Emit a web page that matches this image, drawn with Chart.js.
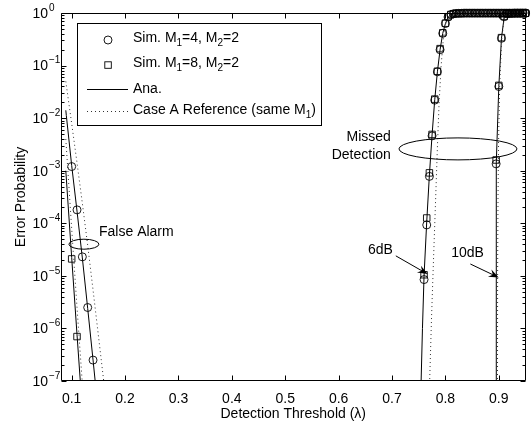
<!DOCTYPE html>
<html><head><meta charset="utf-8">
<script src="https://cdn.jsdelivr.net/npm/chart.js@4.4.1/dist/chart.umd.min.js"></script>
<style>html,body{margin:0;padding:0;background:#fff;overflow:hidden}canvas{display:block}</style>
</head><body>
<canvas id="c" width="531" height="429"></canvas>
<script>
// ---------- tick labels ----------
const xTicks = [0.1, 0.2, 0.3, 0.4, 0.5, 0.6, 0.7, 0.8, 0.9];
const yTickExponents = [0, -1, -2, -3, -4, -5, -6, -7];

// ---------- False alarm: simulation ----------
const faLambdaM4 = [0.10, 0.11, 0.12, 0.13, 0.14];
const faSimM4 = [1.2e-3, 1.8e-4, 2.3e-5, 2.5e-6, 2.5e-7];
const faLambdaM8 = [0.10, 0.11];
const faSimM8 = [2.1e-5, 7.0e-7];

// ---------- False alarm: analytical ----------
const faAnaLambdaM4 = [0.089, 0.09, 0.10, 0.11, 0.12, 0.13, 0.14, 0.15];
const faAnaM4 = [1.41e-2, 1.12e-2, 1.26e-3, 1.70e-4, 2.19e-5, 2.40e-6, 2.51e-7, 2.5e-8];
const faAnaLambdaM8 = [0.089, 0.10, 0.11, 0.12];
const faAnaM8 = [1.0e-3, 2.24e-5, 7.6e-7, 2.8e-8];

// ---------- False alarm: Case A reference ----------
const faRefLambdaM4 = [0.089, 0.10, 0.11, 0.12, 0.13, 0.14, 0.15, 0.16, 0.17];
const faRefM4 = [5.0e-2, 7.9e-3, 1.41e-3, 2.4e-4, 3.8e-5, 5.4e-6, 7.4e-7, 1.0e-7, 1.26e-8];
const faRefLambdaM8 = [0.089, 0.10, 0.11, 0.12, 0.125];
const faRefM8 = [4.0e-3, 7.9e-5, 2.5e-6, 8.9e-8, 1.6e-8];

// ---------- Missed detection 6 dB ----------
const md6Lambda = [0.76, 0.765, 0.77, 0.775, 0.78, 0.785, 0.79, 0.795, 0.80, 0.805,
  0.81, 0.815, 0.82, 0.825, 0.83, 0.835, 0.84, 0.845, 0.85, 0.855,
  0.86, 0.865, 0.87, 0.875, 0.88, 0.885, 0.89, 0.895, 0.90, 0.905,
  0.91, 0.915, 0.92, 0.925, 0.93, 0.935, 0.94, 0.945, 0.95];
const md6SimM4 = [8.5e-6, 9.3e-5, 7.8e-4, 4.6e-3, 2.2e-2, 7.6e-2, 0.20, 0.41, 0.63, 0.84,
  0.93, 0.965, 0.98, 0.985, 0.985, 0.99, 0.99, 0.99, 0.99, 0.99,
  0.99, 0.99, 0.99, 0.99, 0.99, 0.99, 0.99, 0.99, 0.99, 0.99,
  0.99, 0.99, 0.99, 0.99, 0.99, 0.99, 0.99, 0.99, 0.99];
const md6SimM8 = [1.05e-5, 1.26e-4, 9.1e-4, 4.9e-3, 2.3e-2, 7.8e-2, 0.21, 0.42, 0.64, 0.85,
  0.935, 0.97, 0.98, 0.985, 0.985, 0.99, 0.99, 0.99, 0.99, 0.99,
  0.99, 0.99, 0.99, 0.99, 0.99, 0.99, 0.99, 0.99, 0.99, 0.99,
  0.99, 0.99, 0.99, 0.99, 0.99, 0.99, 0.99, 0.99, 0.99];
const md6AnaLambda = [0.7535, 0.7545, 0.757, 0.76, 0.765, 0.77, 0.775, 0.78, 0.785, 0.79,
  0.795, 0.80, 0.805, 0.81, 0.815, 0.82, 0.83, 0.95];
const md6Ana = [2.5e-8, 1.0e-7, 1.0e-6, 1.0e-5, 1.07e-4, 8.3e-4, 4.8e-3, 2.24e-2, 7.6e-2, 0.20,
  0.41, 0.63, 0.83, 0.93, 0.973, 0.989, 0.998, 1.0];
const md6RefLambda = [0.7695, 0.7705, 0.774, 0.778, 0.7816, 0.785, 0.788, 0.792, 0.796, 0.80,
  0.805, 0.81, 0.82, 0.95];
const md6Ref = [3.2e-8, 1.0e-7, 1.6e-6, 2.5e-5, 2.75e-4, 2.8e-3, 1.78e-2, 0.10, 0.32, 0.59,
  0.83, 0.955, 0.993, 1.0];

// ---------- Missed detection 10 dB ----------
const md10Lambda = [0.895, 0.90, 0.905, 0.91, 0.915, 0.92, 0.925, 0.93, 0.935, 0.94, 0.945, 0.95];
const md10SimM4 = [1.35e-3, 4.0e-2, 0.33, 0.85, 0.965, 0.98, 0.985, 0.99, 0.99, 0.99, 0.99, 0.99];
const md10SimM8 = [1.6e-3, 4.2e-2, 0.34, 0.86, 0.97, 0.98, 0.985, 0.99, 0.99, 0.99, 0.99, 0.99];
const md10AnaLambda = [0.8948, 0.895, 0.8953, 0.8956, 0.90, 0.905, 0.91, 0.915, 0.92, 0.95];
const md10Ana = [3.2e-8, 3.2e-6, 1.0e-4, 1.41e-3, 3.98e-2, 0.33, 0.83, 0.966, 0.993, 1.0];
const md10RefLambda = [0.8975, 0.8978, 0.8985, 0.8995, 0.9015, 0.9055, 0.91, 0.915, 0.95];
const md10Ref = [3.2e-8, 1.0e-5, 3.2e-4, 3.2e-3, 3.98e-2, 0.32, 0.79, 0.955, 1.0];

// ---------- helpers ----------
const FONT = '"Liberation Sans", Arial, Helvetica, sans-serif';
const pts = (xs, ys) => xs.map((x, i) => ({ x: x, y: ys[i] }));
function lineDS(xs, ys, dotted) {
  return { data: pts(xs, ys), showLine: true, pointRadius: 0, borderColor: dotted ? '#333' : '#000',
    borderWidth: 1, borderDash: dotted ? [1, 3] : [], fill: false, tension: 0 };
}
function markDS(xs, ys, style) {
  return { data: pts(xs, ys), showLine: false, pointStyle: style,
    pointRadius: style === 'circle' ? 4 : 4.6, pointBorderColor: '#000',
    pointBackgroundColor: 'rgba(0,0,0,0)', pointBorderWidth: 0.9, clip: false };
}

function drawRich(ctx, parts, x, y, size, align) {
  const small = Math.round(size * 0.72);
  let total = 0;
  parts.forEach(p => { ctx.font = (p[1] ? small : size) + 'px ' + FONT; total += ctx.measureText(p[0]).width; });
  let cx = align === 'right' ? x - total : x;
  ctx.textAlign = 'left'; ctx.textBaseline = 'middle';
  parts.forEach(p => {
    ctx.font = (p[1] ? small : size) + 'px ' + FONT;
    const dy = p[1] === 1 ? size * 0.35 : (p[1] === 2 ? -size * 0.42 : 0);
    ctx.fillText(p[0], cx, y + dy);
    cx += ctx.measureText(p[0]).width;
  });
  return x + total;
}

function arrow(ctx, x1, y1, x2, y2) {
  const ang = Math.atan2(y2 - y1, x2 - x1);
  const L = 10, W = 4;
  const bx = x2 - L * Math.cos(ang), by = y2 - L * Math.sin(ang);
  const nx = x2 - 0.65 * L * Math.cos(ang), ny = y2 - 0.65 * L * Math.sin(ang);
  ctx.beginPath(); ctx.moveTo(x1, y1); ctx.lineTo(nx, ny); ctx.stroke();
  ctx.beginPath();
  ctx.moveTo(x2, y2);
  ctx.lineTo(bx - W * Math.sin(ang), by + W * Math.cos(ang));
  ctx.lineTo(nx, ny);
  ctx.lineTo(bx + W * Math.sin(ang), by - W * Math.cos(ang));
  ctx.closePath(); ctx.fill();
}

const axesPlugin = {
  id: 'matlabAxes',
  afterDraw(chart) {
    const ctx = chart.ctx, xs = chart.scales.x, ys = chart.scales.y;
    const { left, right, top, bottom } = chart.chartArea;
    const L = Math.round(left) + 0.5, R = Math.round(right) - 0.5, T = Math.round(top) + 0.5, B = Math.round(bottom) - 0.5;
    ctx.save();
    ctx.strokeStyle = '#000'; ctx.fillStyle = '#000'; ctx.lineWidth = 1;
    ctx.beginPath(); ctx.rect(L, T, R - L, B - T); ctx.stroke();
    ctx.beginPath();
    xTicks.forEach(v => {
      const px = Math.round(xs.getPixelForValue(v)) + 0.5;
      ctx.moveTo(px, B); ctx.lineTo(px, B - 5);
      ctx.moveTo(px, T); ctx.lineTo(px, T + 5);
    });
    yTickExponents.forEach(e => {
      const py = Math.round(ys.getPixelForValue(Math.pow(10, e))) + 0.5;
      ctx.moveTo(L, py); ctx.lineTo(L + 5, py);
      ctx.moveTo(R, py); ctx.lineTo(R - 5, py);
      if (e > -7) {
        for (let m = 2; m <= 9; m++) {
          const pm = Math.round(ys.getPixelForValue(m * Math.pow(10, e - 1))) + 0.5;
          ctx.moveTo(L, pm); ctx.lineTo(L + 3, pm);
          ctx.moveTo(R, pm); ctx.lineTo(R - 3, pm);
        }
      }
    });
    ctx.stroke();
    yTickExponents.forEach(e => {
      const py = ys.getPixelForValue(Math.pow(10, e));
      ctx.font = '14px ' + FONT; ctx.textAlign = 'right'; ctx.textBaseline = 'middle';
      ctx.fillText('10', 48, py + 1);
      ctx.font = '10px ' + FONT; ctx.textAlign = 'left';
      ctx.fillText(e === 0 ? '0' : '\u2212' + (-e), 49, py - 5);
    });

    const X = v => xs.getPixelForValue(v), Y = v => ys.getPixelForValue(v);
    ctx.lineWidth = 1;
    ctx.beginPath(); ctx.ellipse(X(0.1229), Y(4.0e-5), 15, 5, 0, 0, Math.PI * 2); ctx.stroke();
    ctx.beginPath(); ctx.ellipse(X(0.8235), Y(2.6e-3), 59, 11, 0, 0, Math.PI * 2); ctx.stroke();
    ctx.font = '14px ' + FONT; ctx.textBaseline = 'middle';
    ctx.textAlign = 'left'; ctx.fillText('False Alarm', X(0.1512), Y(6.7e-5));
    ctx.textAlign = 'right';
    ctx.fillText('Missed', X(0.6978), Y(4.4e-3));
    ctx.fillText('Detection', X(0.6978), Y(2.0e-3));
    ctx.fillText('6dB', X(0.7015), Y(3.1e-5));
    ctx.textAlign = 'left';
    ctx.fillText('10dB', X(0.8108), Y(2.7e-5));
    arrow(ctx, X(0.7071), Y(2.4e-5), X(0.7667), Y(1.08e-5));
    arrow(ctx, X(0.8467), Y(1.68e-5), X(0.8998), Y(9.3e-6));

    // legend
    const fs = 14;
    const rows = [40, 65, 89, 111];
    const bx = 77.5, by = 23.5, bh = 102;
    ctx.font = fs + 'px ' + FONT;
    const wCase = ctx.measureText('Case A Reference (same M').width + ctx.measureText(')').width;
    ctx.font = Math.round(fs * 0.72) + 'px ' + FONT;
    const bw = Math.round(133 + wCase + ctx.measureText('1').width + 6 - bx);
    ctx.fillStyle = '#fff';
    ctx.fillRect(bx, by, bw, bh);
    ctx.fillStyle = '#000';
    ctx.beginPath(); ctx.arc(108, rows[0], 4, 0, Math.PI * 2); ctx.lineWidth = 0.9; ctx.stroke();
    ctx.strokeRect(104.8, rows[1] - 3.2, 6.5, 6.5);
    ctx.lineWidth = 1;
    ctx.beginPath(); ctx.moveTo(87, rows[2] + 0.5); ctx.lineTo(128, rows[2] + 0.5); ctx.stroke();
    ctx.save(); ctx.setLineDash([1, 3]); ctx.strokeStyle = '#333';
    ctx.beginPath(); ctx.moveTo(87, rows[3] + 0.5); ctx.lineTo(128, rows[3] + 0.5); ctx.stroke(); ctx.restore();
    drawRich(ctx, [['Sim. M', 0], ['1', 1], ['=4, M', 0], ['2', 1], ['=2', 0]], 133, rows[0] - 2, fs);
    drawRich(ctx, [['Sim. M', 0], ['1', 1], ['=8, M', 0], ['2', 1], ['=2', 0]], 133, rows[1] - 2, fs);
    drawRich(ctx, [['Ana.', 0]], 133, rows[2], fs);
    drawRich(ctx, [['Case A Reference (same M', 0], ['1', 1], [')', 0]], 133, rows[3] - 1, fs);
    ctx.lineWidth = 1;
    ctx.strokeRect(bx, by, bw, bh);
    ctx.restore();
  }
};

Chart.defaults.font.family = FONT;
Chart.defaults.color = '#000';

new Chart(document.getElementById('c'), {
  type: 'scatter',
  data: {
    datasets: [
      lineDS(faRefLambdaM4, faRefM4, true),
      lineDS(faRefLambdaM8, faRefM8, true),
      lineDS(md6RefLambda, md6Ref, true),
      lineDS(md10RefLambda, md10Ref, true),
      lineDS(faAnaLambdaM4, faAnaM4, false),
      lineDS(faAnaLambdaM8, faAnaM8, false),
      lineDS(md6AnaLambda, md6Ana, false),
      lineDS(md10AnaLambda, md10Ana, false),
      markDS(faLambdaM4, faSimM4, 'circle'),
      markDS(faLambdaM8, faSimM8, 'rect'),
      markDS(md6Lambda, md6SimM4, 'circle'),
      markDS(md6Lambda, md6SimM8, 'rect'),
      markDS(md10Lambda, md10SimM4, 'circle'),
      markDS(md10Lambda, md10SimM8, 'rect')
    ]
  },
  options: {
    responsive: false, animation: false, devicePixelRatio: 1, events: [],
    layout: { padding: { top: 13, right: 3, left: 0, bottom: 0 } },
    plugins: { legend: { display: false }, tooltip: { enabled: false } },
    scales: {
      x: {
        type: 'linear', min: 0.08, max: 0.95,
        afterBuildTicks: s => { s.ticks = xTicks.map(v => ({ value: v })); },
        afterFit: s => { s.height = 48; },
        grid: { display: false }, border: { display: false },
        ticks: { font: { size: 14 }, color: '#000', padding: 2, maxRotation: 0, autoSkip: false,
          callback: v => v.toFixed(1) },
        title: { display: true, text: 'Detection Threshold (\u03bb)', font: { size: 14 }, color: '#000', padding: { top: 0, bottom: 6 } }
      },
      y: {
        type: 'logarithmic', min: 1e-7, max: 1,
        afterBuildTicks: s => { s.ticks = yTickExponents.map(e => ({ value: Math.pow(10, e) })); },
        afterFit: s => { s.width = 61; },
        grid: { display: false }, border: { display: false },
        ticks: { display: false },
        title: { display: true, text: 'Error Probability', font: { size: 14 }, color: '#000', padding: { top: 13, bottom: 0 } }
      }
    }
  },
  plugins: [axesPlugin]
});
</script>
</body></html>
